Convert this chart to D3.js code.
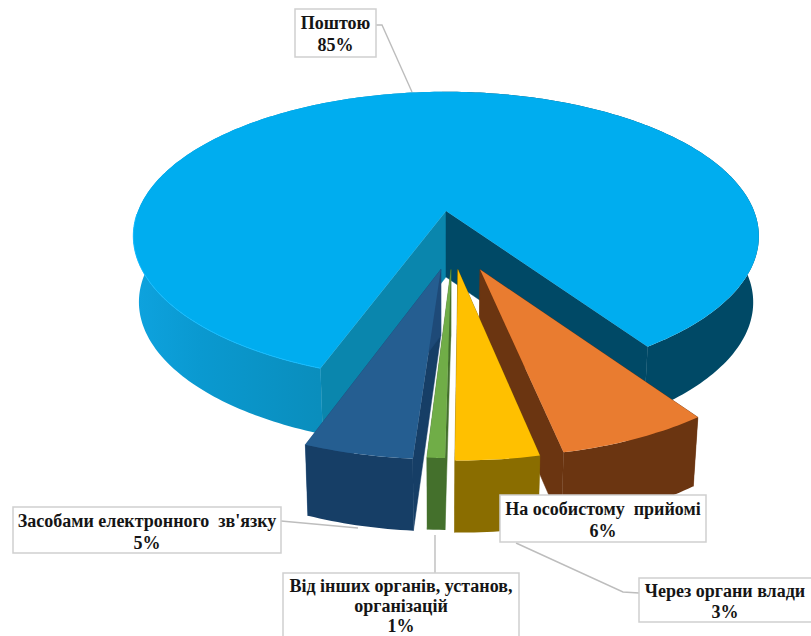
<!DOCTYPE html>
<html><head><meta charset="utf-8">
<script src="https://cdn.jsdelivr.net/npm/d3@7"></script>
<style>html,body{margin:0;padding:0;background:#fff;overflow:hidden}svg{display:block}text{white-space:pre}</style>
</head><body><svg id="c" width="811" height="636"></svg>
<script>
// data
const categories = ["Поштою","На особистому прийомі","Через органи влади","Від інших органів, установ, організацій","Засобами електронного зв'язку"];
const values = [85,6,3,1,5];
// styling
const topColors = ["#00adef","#e97c30","#ffc000","#70ad47","#255e91"];
const outerColors = ["url(#bigWall)","#6b3511","#8a6d00","#44702c","#163e66"];
const startWall = ["#004966","#6b3511","#8a6d00","#44702c","#1e4a78"];
const endWall = ["#0a86ad","#6e3510","#8a6d00","#44702c","#163e66"];
const pullX = [0.0066,0.109,0.042,0.021,-0.0097];
const pullY = [0,0.39,0.39,0.39,0.39];
const radius = [1,0.955,0.97,0.96,0.965];
const turn = [0,0,1.6,2.25,1.3];
const span = [1,1.088,1.167,0.75,0.92];
const labels = [
 {lines:["Поштою","85%"],box:[295,9,376,57],ys:[29,51]},
 {lines:["На особистому  прийомі","6%"],box:[500,495,706,542],ys:[515,537]},
 {lines:["Через органи влади","3%"],box:[639,578,815,622],ys:[597,618]},
 {lines:["Від інших органів, установ,","організацій","1%"],box:[283,573,519,645],ys:[592,612,632]},
 {lines:["Засобами електронного  зв'язку","5%"],box:[13,507,281,553],ys:[527,549]}
];
const leaders = [
 [[376,25],[382,25],[412,92]],
 [[516,543],[623,592],[639,593]],
 [[435,535],[435,573]],
 [[281,521],[358,528]]
];
const cx=444, cy=211, A=308, B=140, k=0.174, fontSize=18;
const toRad=Math.PI/180;
const svg=d3.select("#c");
const defs=svg.append("defs");
const g=defs.append("linearGradient").attr("id","bigWall").attr("gradientUnits","userSpaceOnUse")
 .attr("x1",132).attr("x2",752).attr("y1",0).attr("y2",0);
[[0,"#0ea3df"],[0.11,"#0a99d0"],[0.3,"#0a8ebd"],[0.5,"#0a8ebd"],[0.5,"#004966"],[1,"#004966"]]
 .forEach(s=>g.append("stop").attr("offset",s[0]).attr("stop-color",s[1]));

const pie=d3.pie().sort(null).value(d=>d).startAngle(200*toRad).endAngle(560*toRad);
const arcs=pie(values);
const line=d3.line();
function face(X,Y){const d=1-k*Y;return [cx+A*X/d,cy+B*Y/d];}
function bot(X,Y){const p=face(X,Y);const h=Y<1?66:66+17*(Y-1);return [cx+(p[0]-cx)*0.982,p[1]+h];}
function pt(i,a,r){return [pullX[i]+r*Math.cos(a),pullY[i]+r*Math.sin(a)];}
// on-screen angle = d3 angle - 90deg
const layer=svg.append("g");
[0,1,2,3,4].forEach(i=>{
  const mid=(arcs[i].startAngle+arcs[i].endAngle)/2-Math.PI/2+turn[i]*toRad;
  const half=(arcs[i].endAngle-arcs[i].startAngle)/2*span[i];
  const a0=mid-half, a1=mid+half;
  const r=radius[i];
  const apex=[pullX[i],pullY[i]];
  const n=Math.ceil((a1-a0)/toRad);
  const rim=d3.range(0,n+1).map(j=>pt(i,a0+(a1-a0)*j/n,r));
  const wall=(P,c)=>layer.append("path").attr("d",line([face(...apex),face(...P),bot(...P),bot(...apex)])+"Z").attr("fill",c).attr("stroke",c).attr("stroke-width",0.5);
  wall(rim[0],endWall[i]);
  wall(rim[rim.length-1],startWall[i]);
  layer.append("path").attr("d",line(rim.map(p=>face(...p)).concat(rim.slice().reverse().map(p=>bot(...p))))+"Z")
    .attr("fill",outerColors[i]);
  layer.append("path").attr("d",line([face(...apex)].concat(rim.map(p=>face(...p))))+"Z").attr("fill",topColors[i]);
  if(i===0){
    layer.append("path").attr("d",line(rim.slice(0,70).map(p=>face(...p)))).attr("fill","none").attr("stroke","#14bcff").attr("stroke-width",1);
  }
});
const lg=svg.append("g");
leaders.forEach(l=>lg.append("path").attr("d",line(l)).attr("fill","none").attr("stroke","#bdbdbd").attr("stroke-width",1.4));
const tg=svg.append("g");
labels.forEach(l=>{
  const [x0,y0,x1,y1]=l.box;
  tg.append("rect").attr("x",x0).attr("y",y0).attr("width",x1-x0).attr("height",y1-y0).attr("fill","#fff").attr("stroke","#cfcfcf").attr("stroke-width",1.5);
  l.lines.forEach((t,j)=>tg.append("text").attr("x",(x0+Math.min(x1,811))/2).attr("y",l.ys[j]).attr("text-anchor","middle")
    .attr("font-family","'Liberation Serif',serif").attr("font-weight","bold").attr("font-size",fontSize).attr("fill","#151515").text(t));
});
</script></body></html>
